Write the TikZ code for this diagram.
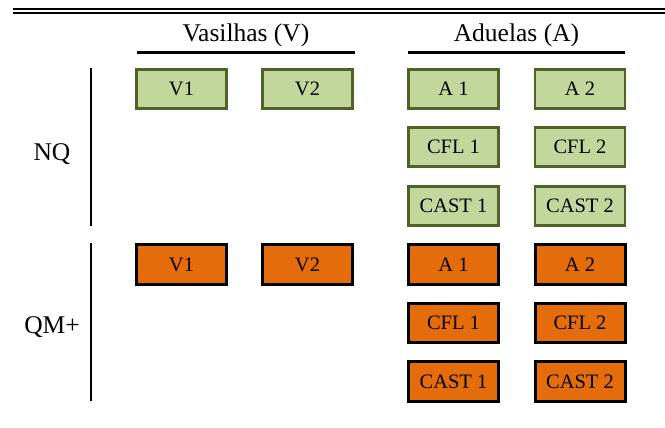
\documentclass[tikz,border=0pt]{standalone}
\usepackage{fontspec}
\setmainfont{Liberation Serif}
\definecolor{gfill}{HTML}{C3D69B}
\definecolor{gdraw}{HTML}{4F6228}
\definecolor{ofill}{HTML}{E46C0A}
\tikzset{
  box/.style={rectangle, minimum width=90pt, minimum height=39.5pt, inner sep=0pt,
    font=\fontsize{20.5}{22}\selectfont, line width=2.7pt},
  gbox/.style={box, fill=gfill, draw=gdraw},
  obox/.style={box, fill=ofill, draw=black, line width=3pt},
  head/.style={font=\fontsize{25.5}{28}\selectfont, inner sep=0pt, anchor=base},
  side/.style={font=\fontsize{25.5}{28}\selectfont, inner sep=0pt},
  rule/.style={line width=2.4pt},
  vline/.style={line width=1.8pt}
}
\begin{document}
\begin{tikzpicture}[x=1pt,y=-1pt]
\useasboundingbox (0,0) rectangle (665,428);
% top double rule
\coordinate (tl1) at (12.5,8.7);
\coordinate (tr1) at (665,8.7);
\coordinate (tl2) at (12.5,12.9);
\coordinate (tr2) at (665,12.9);
\draw[line width=2.1pt] (tl1) -- (tr1);
\draw[line width=1.6pt] (tl2) -- (tr2);
% headers
\node[head] (hv) at (246,41.7) {Vasilhas (V)};
\node[head] (ha) at (516.5,41.7) {Aduelas (A)};
\coordinate (hvl) at (137,52.7);
\coordinate (hvr) at (355,52.7);
\coordinate (hal) at (408,52.7);
\coordinate (har) at (625,52.7);
\draw[rule] (hvl) -- (hvr);
\draw[rule] (hal) -- (har);
% side labels and lines
\node[side] (nq) at (52,154) {NQ};
\node[side] (qm) at (52,327) {QM+};
\coordinate (n1) at (90.7,68);
\coordinate (n2) at (90.7,226);
\coordinate (q1) at (90.7,243);
\coordinate (q2) at (90.7,401);
\draw[vline] (n1) -- (n2);
\draw[vline] (q1) -- (q2);
% green boxes
\node[gbox] (gv1) at (181.5,89) {V1};
\node[gbox] (gv2) at (307.5,89) {V2};
\node[gbox] (ga1) at (453.5,89) {A 1};
\node[gbox] (ga2) at (580,89) {A 2};
\node[gbox] (gc1) at (453.5,147) {CFL 1};
\node[gbox] (gc2) at (580,147) {CFL 2};
\node[gbox] (gs1) at (453.5,206) {CAST 1};
\node[gbox] (gs2) at (580,206) {CAST 2};
% orange boxes
\node[obox] (ov1) at (181.5,264.5) {V1};
\node[obox] (ov2) at (307.5,264.5) {V2};
\node[obox] (oa1) at (453.5,264.5) {A 1};
\node[obox] (oa2) at (580,264.5) {A 2};
\node[obox] (oc1) at (453.5,323) {CFL 1};
\node[obox] (oc2) at (580,323) {CFL 2};
\node[obox] (os1) at (453.5,381.5) {CAST 1};
\node[obox] (os2) at (580,381.5) {CAST 2};
\end{tikzpicture}
\end{document}
